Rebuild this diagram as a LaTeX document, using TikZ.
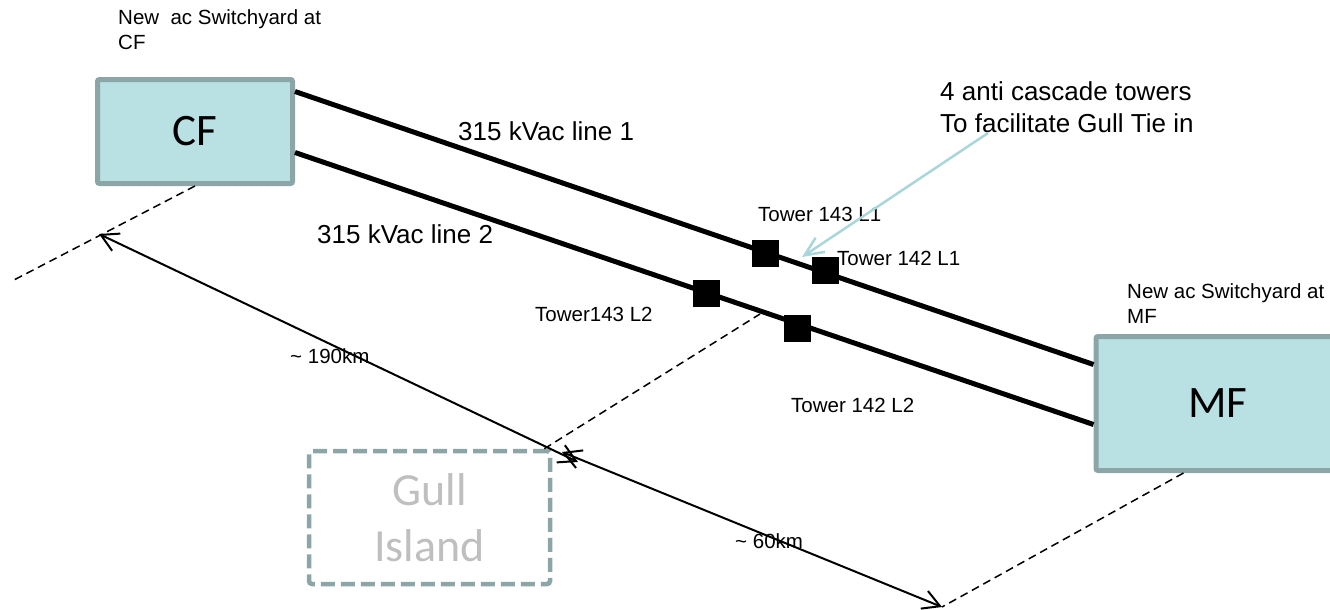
\documentclass[tikz,border=0pt]{standalone}
\usepackage{fontspec}
\setmainfont{Liberation Sans}
\newfontfamily\calibrifont{Carlito}
\usetikzlibrary{arrows.meta,calc}
\definecolor{boxfill}{HTML}{B9E0E3}
\definecolor{boxline}{HTML}{8CA6A8}
\definecolor{gulltext}{HTML}{BFBFBF}
\definecolor{annoarrow}{HTML}{A8D6DA}
\begin{document}
\begin{tikzpicture}[x=1pt,y=-1pt,
  station/.style={draw=boxline, fill=boxfill, line width=5pt, rounded corners=2pt,
    font=\calibrifont\fontsize{45}{54}\selectfont, inner sep=0pt},
  gullbox/.style={draw=boxline, line width=4.5pt, dash pattern=on 14pt off 6pt,
    rounded corners=3pt, text=gulltext, align=center,
    font=\calibrifont\fontsize{46}{56}\selectfont},
  tower/.style={fill=black, minimum size=27pt, inner sep=0pt},
  small/.style={font=\fontsize{20.5}{25}\selectfont, inner sep=0pt},
  big/.style={font=\fontsize{26}{32}\selectfont, inner sep=0pt},
  hvline/.style={line width=5pt},
  dimline/.style={line width=2pt,
    {Straight Barb[length=17pt,width=19pt]}-{Straight Barb[length=17pt,width=19pt]}},
  guide/.style={line width=1.5pt, dash pattern=on 8pt off 5pt},
  annoline/.style={draw=annoarrow, line width=2.5pt, -{Straight Barb[length=19pt,width=17pt]}},
  ]
\useasboundingbox (0,0) rectangle (1330,610);

% labels
\node[small, anchor=north west, align=left] (swCF) at (118,9) {New\ \ ac Switchyard at\\CF};
\node[small, anchor=north west, align=left] (swMF) at (1127,283) {New ac Switchyard at\\MF};
\node[big, anchor=north west, align=left] (anno) at (940,81) {4 anti cascade towers\\To facilitate Gull Tie in};
\node[big, anchor=base west] (L1) at (458,140) {315 kVac line 1};
\node[big, anchor=base west] (L2) at (317,243) {315 kVac line 2};
\node[small, anchor=base west] (lt1) at (758,221) {Tower 143 L1};
\node[small, anchor=base west] (lt2) at (837,265) {Tower 142 L1};
\node[small, anchor=base west] (lt3) at (535,321) {Tower143 L2};
\node[small, anchor=base west] (lt4) at (791,412) {Tower 142 L2};
\node[small, anchor=base west] (k190) at (290,363) {\textasciitilde{} 190km};
\node[small, anchor=base west] (k60) at (735,548) {\textasciitilde{} 60km};

% boxes
\node[station, minimum width=195pt, minimum height=104pt] (CF) at (195,131.5) {CF};
\node[station, minimum width=244pt, minimum height=134pt] (MF) at (1218,403.5) {MF};
\node[gullbox, minimum width=241pt, minimum height=133pt] (Gull) at (429.5,517.5) {Gull\\Island};

% transmission lines
\coordinate (l1a) at ($(CF.north east)+(0,14.5)$);
\coordinate (l2a) at ($(CF.north east)+(0,75.5)$);
\coordinate (l1b) at ($(MF.north west)+(0,30.5)$);
\coordinate (l2b) at ($(MF.north west)+(0,90.5)$);
\draw[hvline] (l1a) -- (l1b);
\draw[hvline] (l2a) -- (l2b);

% towers
\node[tower] (T143a) at (765,253) {};
\node[tower] (T142a) at (825,270) {};
\node[tower] (T143b) at (706,293) {};
\node[tower] (T142b) at (797,328) {};

% guide lines
\coordinate (g1) at (12,281);
\coordinate (g2) at (760,314);
\coordinate (d1) at (99,234);
\coordinate (d2) at (578,462);
\coordinate (d3) at (562,452);
\coordinate (d4) at (942,607);
\draw[guide] (CF.south) -- (g1);
\draw[guide] ($(Gull.north east)+(-8,0)$) -- (g2);
\draw[guide] ($(MF.south west)+(90,0)$) -- (d4);

% dimensions
\draw[dimline] (d1) -- (d2);
\draw[dimline] (d3) -- (d4);

% annotation arrow
\coordinate (a0) at (988,133);
\coordinate (a1) at (802,257);
\draw[annoline] (a0) -- (a1);
\end{tikzpicture}
\end{document}
